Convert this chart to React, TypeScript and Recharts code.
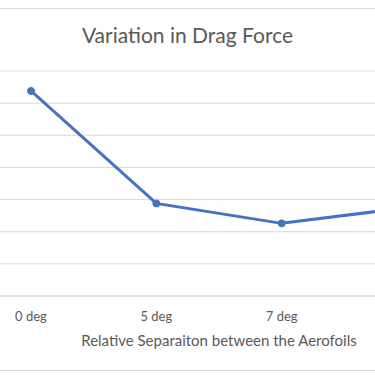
import React from 'react';
import { CartesianGrid, Line, LineChart, XAxis, YAxis } from 'recharts';

const categories = ['0 deg', '5 deg', '7 deg', '10 deg'];
const dragForce = [6.38, 2.88, 2.26, 2.75];
const yTicks = [0, 1, 2, 3, 4, 5, 6, 7];

const data = categories.map((c, i) => ({ angle: c, drag: dragForce[i] }));

const GRID = '#d9d9d9';
const TEXT = '#595959';
const BLUE = '#4472C4';
const FONT = 'Lato, "Open Sans", sans-serif';

export default function App() {
  return (
    <div
      style={{
        position: 'fixed',
        left: 0,
        top: 0,
        width: 375,
        height: 375,
        overflow: 'hidden',
        background: '#fff',
        fontFamily: FONT,
      }}
    >
      <div style={{ position: 'absolute', left: 0, right: 0, top: 8, borderTop: `1px solid ${GRID}` }} />
      <div style={{ position: 'absolute', left: 0, right: 0, top: 370, borderTop: `1px solid ${GRID}` }} />
      <div
        style={{
          position: 'absolute',
          left: 0,
          width: 375,
          top: 22,
          textAlign: 'center',
          fontSize: 21,
          color: TEXT,
        }}
      >
        Variation in Drag Force
      </div>
      <div style={{ position: 'absolute', left: -32, top: 0 }}>
        <LineChart width={502} height={375} data={data} margin={{ top: 71, right: 0, bottom: 0, left: 0 }}>
          <CartesianGrid vertical={false} stroke={GRID} />
          <XAxis
            dataKey="angle"
            stroke={GRID}
            tickLine={false}
            tickMargin={10}
            height={79}
            padding={{ left: 63, right: 63 }}
            tick={{ fill: TEXT, fontSize: 13, fontFamily: FONT }}
            label={{
              value: 'Relative Separaiton between the Aerofoils',
              position: 'insideBottom',
              offset: 29,
              fill: TEXT,
              fontSize: 15,
              fontFamily: FONT,
            }}
          />
          <YAxis hide domain={[0, 7]} ticks={yTicks} />
          <Line
            type="linear"
            dataKey="drag"
            stroke={BLUE}
            strokeWidth={3}
            dot={{ r: 3.5, fill: BLUE, stroke: BLUE, strokeWidth: 1 }}
            isAnimationActive={false}
          />
        </LineChart>
      </div>
    </div>
  );
}
